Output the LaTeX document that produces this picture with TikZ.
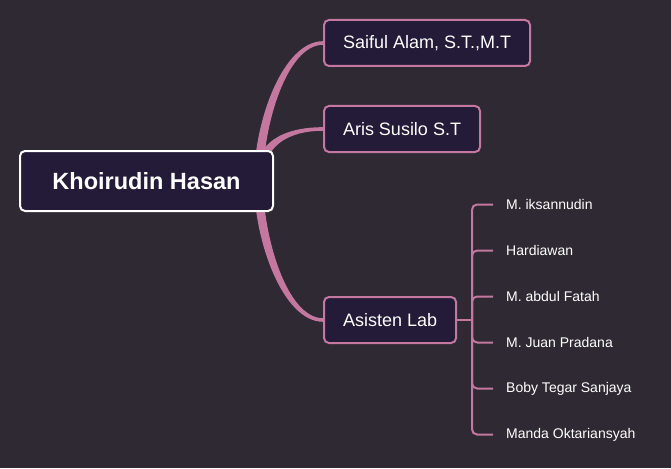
\documentclass[tikz,border=0pt]{standalone}
\usepackage{fontspec}
\setmainfont{Liberation Sans}
\usetikzlibrary{backgrounds}

\definecolor{bgdark}{RGB}{46,41,50}
\definecolor{boxfill}{RGB}{35,27,55}
\definecolor{branchpink}{RGB}{196,120,160}

\tikzset{
  rootbox/.style={draw=white, line width=2pt, fill=boxfill, rounded corners=5pt, text=white,
    minimum width=253pt, minimum height=60pt, font=\fontsize{23.5}{26}\selectfont\bfseries},
  childbox/.style={draw=branchpink, line width=2pt, fill=boxfill, rounded corners=5pt, text=white,
    anchor=west, inner xsep=19pt, minimum height=46pt, font=\fontsize{18}{20}\selectfont},
  leaf/.style={anchor=west, inner xsep=13pt, inner ysep=2pt, text=white, font=\fontsize{14}{16}\selectfont},
  branch/.style={fill=branchpink},
  twig/.style={draw=branchpink, line width=2pt},
}

\begin{document}
\begin{tikzpicture}[x=1pt,y=-1pt]
        \useasboundingbox (0,0) rectangle (671,468);
        % nodes
        \node[rootbox] (root) at (146.5,181) {Khoirudin Hasan};
        \node[childbox] (saiful) at (323,43) {Saiful Alam, S.T.,M.T};
        \node[childbox] (aris) at (323,129) {Aris Susilo S.T};
        \node[childbox] (asisten) at (323,320) {Asisten Lab};
        \node[leaf] (iksan) at (493,204.5) {M. iksannudin};
        \node[leaf] (hardi) at (493,250.5) {Hardiawan};
        \node[leaf] (fatah) at (493,296.5) {M. abdul Fatah};
        \node[leaf] (juan) at (493,342.5) {M. Juan Pradana};
        \node[leaf] (boby) at (493,388.5) {Boby Tegar Sanjaya};
        \node[leaf] (manda) at (493,434.5) {Manda Oktariansyah};
        % tapered branches behind the boxes
        \begin{scope}[on background layer]
        \fill[bgdark] (0,0) rectangle (671,468);
        \fill[branch] ([xshift=-20pt]root.east) .. controls +(0,-60) and +(-40,0) .. ([yshift=1.8pt]saiful.west)
            -- ([yshift=-1.8pt]saiful.west) .. controls +(-36,0) and +(0,-56) .. ([xshift=-11pt]root.east) -- cycle;
        \fill[branch] ([xshift=-20pt]root.east) .. controls +(0,-40) and +(-38,0) .. ([yshift=1.8pt]aris.west)
            -- ([yshift=-1.8pt]aris.west) .. controls +(-34,0) and +(0,-36) .. ([xshift=-11pt]root.east) -- cycle;
        \fill[branch] ([xshift=-20pt]root.east) .. controls +(0,60) and +(-40,0) .. ([yshift=-1.8pt]asisten.west)
            -- ([yshift=1.8pt]asisten.west) .. controls +(-36,0) and +(0,56) .. ([xshift=-11pt]root.east) -- cycle;
        \end{scope}
        % sub branches of Asisten Lab
        \coordinate (fork) at ([xshift=15pt]asisten.east);
        \draw[twig] (asisten.east) -- (fork);
        \foreach \l in {iksan,hardi,fatah,juan,boby,manda}
            \draw[twig, rounded corners=5pt] (fork) |- (\l.west);
\end{tikzpicture}
\end{document}
